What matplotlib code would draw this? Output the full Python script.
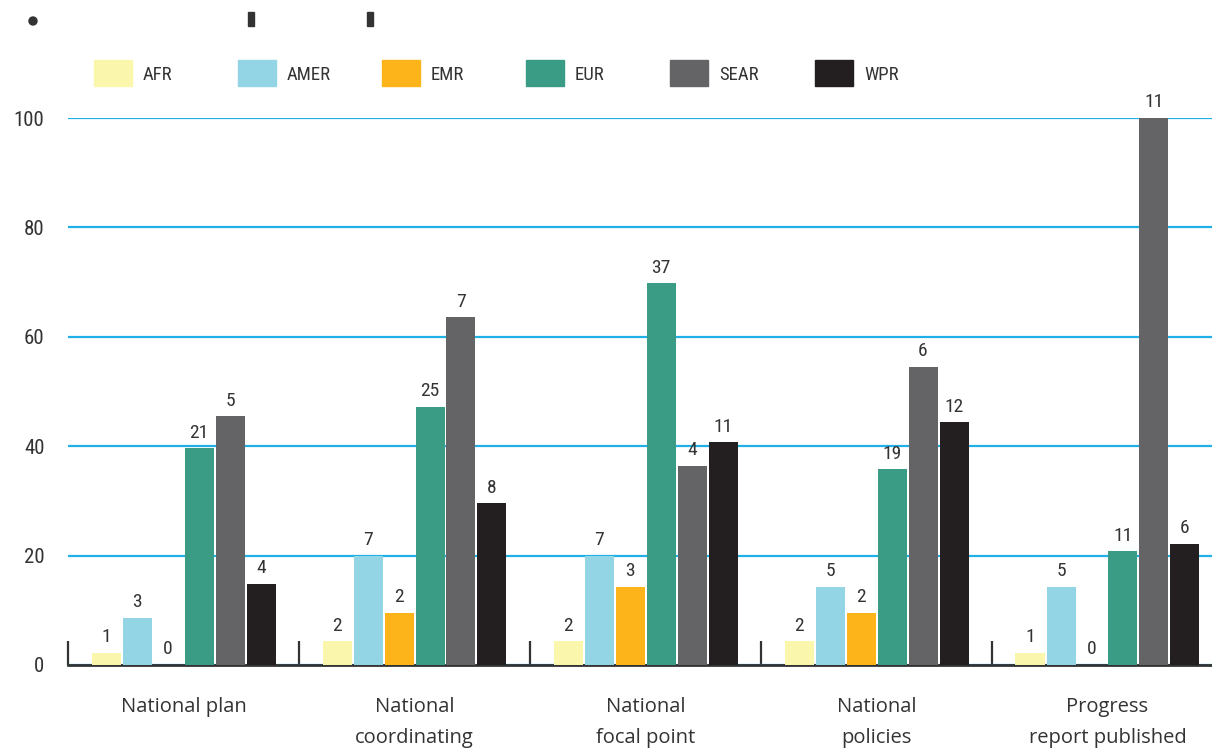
import matplotlib
matplotlib.use('Agg')
import matplotlib.pyplot as plt
from matplotlib.patches import Rectangle, Ellipse
from matplotlib import font_manager
import numpy as np

# share of countries (%) per region, and the country counts shown above bars
categories = ['National plan', 'National\ncoordinating', 'National\nfocal point',
              'National\npolicies', 'Progress\nreport published']
regions = ['AFR', 'AMER', 'EMR', 'EUR', 'SEAR', 'WPR']
colors = ['#faf6ab', '#93d5e4', '#fdb31a', '#3a9c84', '#646466', '#231f20']

afr = [2.2, 4.3, 4.3, 4.3, 2.2]
amer = [8.6, 20.0, 20.0, 14.3, 14.3]
emr = [0.0, 9.5, 14.3, 9.5, 0.0]
eur = [39.6, 47.2, 69.8, 35.8, 20.8]
sear = [45.5, 63.6, 36.4, 54.5, 100.0]
wpr = [14.8, 29.6, 40.7, 44.4, 22.2]

afr_n = [1, 2, 2, 2, 1]
amer_n = [3, 7, 7, 5, 5]
emr_n = [0, 2, 3, 2, 0]
eur_n = [21, 25, 37, 19, 11]
sear_n = [5, 7, 4, 6, 11]
wpr_n = [4, 8, 11, 12, 6]

values = [afr, amer, emr, eur, sear, wpr]
counts = [afr_n, amer_n, emr_n, eur_n, sear_n, wpr_n]

installed = {f.name for f in font_manager.fontManager.ttflist}
num_font = [f for f in ['Roboto Condensed', 'Liberation Sans Narrow', 'DejaVu Sans Condensed']
            if f in installed] + ['DejaVu Sans']
stretch = 'normal' if num_font[0] != 'DejaVu Sans' else 'condensed'
txt_font = ['Open Sans', 'DejaVu Sans']
dark = '#333333'

W, H = 1212, 752
fig = plt.figure(figsize=(W / 100, H / 100), dpi=100)
ax = fig.add_axes([68 / W, 87 / H, 1155 / W, 547 / H])

x = np.arange(len(categories))
pitch = 31 / 231
width = 29 / 231
for i, (vals, cnts) in enumerate(zip(values, counts)):
    xs = x + (i - 2.5) * pitch
    ax.bar(xs, vals, width=width, color=colors[i], zorder=3)
    for xi, v, c in zip(xs, vals, cnts):
        ax.text(xi, v + 1.2, str(c), ha='center', va='bottom', fontsize=14,
                family=num_font, fontstretch=stretch,
                color=dark, zorder=4, clip_on=False)

ax.set_xlim(-0.5, 4.5)
ax.set_ylim(0, 100)
ax.set_yticks([0, 20, 40, 60, 80, 100])
ax.yaxis.grid(True, color='#1fb1e6', linewidth=1.6, zorder=1)
ax.set_axisbelow(True)
for s in ['top', 'right', 'left']:
    ax.spines[s].set_visible(False)
ax.spines['bottom'].set_color(dark)
ax.spines['bottom'].set_linewidth(2)
ax.spines['bottom'].set_zorder(2)

ax.tick_params(axis='y', length=0, pad=17, labelsize=15, labelcolor=dark)
for lab in ax.get_yticklabels():
    lab.set_family(num_font)
    lab.set_fontstretch(stretch)
ax.set_xticks(x)
ax.set_xticklabels(categories, fontsize=14.5, color=dark, family=txt_font, linespacing=1.75)
ax.tick_params(axis='x', which='major', length=0, pad=23)
ax.set_xticks(np.arange(-0.5, 5, 1.0), minor=True)
ax.tick_params(axis='x', which='minor', direction='in', length=17, width=1.6, color=dark)

# legend drawn in figure pixels
leg_x = [94, 238, 382, 526, 670, 815]
for lx, name, col in zip(leg_x, regions, colors):
    fig.patches.append(Rectangle((lx / W, (H - 86) / H), 38 / W, 26 / H,
                                 transform=fig.transFigure, color=col))
    fig.text((lx + 49) / W, (H - 75) / H, name, fontsize=13.5, family=num_font,
             fontstretch=stretch, color=dark, va='center', ha='left')

# clipped remnants of the title at the top edge
fig.patches.append(Ellipse((33 / W, (H - 21) / H), 8 / W, 8 / H,
                           transform=fig.transFigure, color='#333333'))
for bx in [248, 367]:
    fig.patches.append(Rectangle((bx / W, (H - 26) / H), 6 / W, 14 / H,
                                 transform=fig.transFigure, color='#333333'))

fig.savefig('out.png', dpi=100)
